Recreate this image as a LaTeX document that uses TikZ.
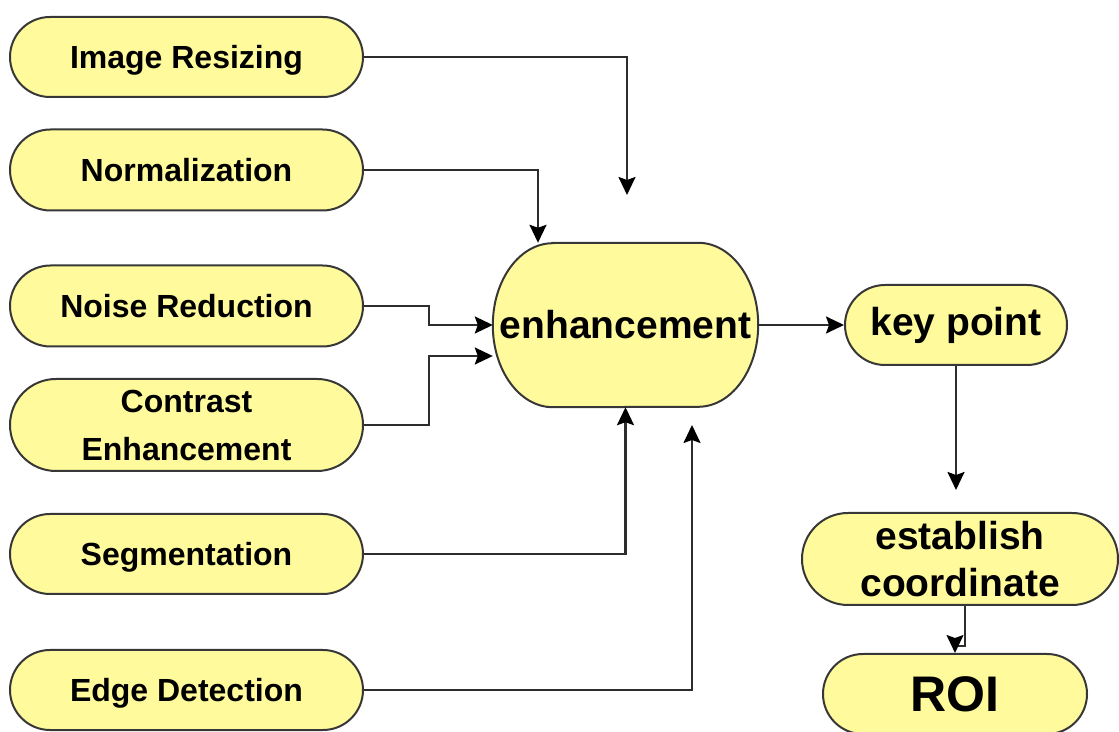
\documentclass[tikz,border=0pt]{standalone}
\usepackage{fontspec}
\setmainfont{Liberation Sans}
\usetikzlibrary{shapes.misc,arrows.meta,calc}
\pgfdeclarelayer{background}
\pgfsetlayers{background,main}
\definecolor{boxfill}{RGB}{255,250,155}
\definecolor{edgegray}{RGB}{55,55,55}
\definecolor{linegray}{RGB}{45,45,45}
\tikzset{
  pill/.style={rounded rectangle, draw=edgegray, line width=2pt, fill=boxfill,
    inner sep=0pt, align=center, text=black, font=\bfseries\fontsize{32}{48}\selectfont},
  oneline/.style={text height=22.9pt, text depth=0pt},
  bigtext/.style={font=\bfseries\fontsize{39}{47}\selectfont},
  conn/.style={draw=linegray, line width=2.2pt,
    -{Stealth[length=18pt,width=17pt,inset=3pt,color=black,fill=black]}},
}
\begin{document}
\begin{tikzpicture}[x=1pt,y=1pt]
\useasboundingbox (0,0) rectangle (1119,731);

% input steps on the left
\node[pill, oneline, minimum width=353pt, minimum height=80pt] (ir) at (186.5,674) {Image Resizing};
\node[pill, oneline, minimum width=353pt, minimum height=81pt] (nm) at (186.5,561) {Normalization};
\node[pill, oneline, minimum width=353pt, minimum height=81pt] (nr) at (186.5,425) {Noise Reduction};
\node[pill, minimum width=353pt, minimum height=92pt] (ce) at (186.5,306) {Contrast\\Enhancement};
\node[pill, oneline, minimum width=353pt, minimum height=80pt] (sg) at (186.5,177) {Segmentation};
\node[pill, oneline, minimum width=353pt, minimum height=80pt] (ed) at (186.5,41) {Edge Detection};

% central enhancement block (oval with elliptic corners)
\node[inner sep=0pt, minimum width=265pt, minimum height=164pt, bigtext] (enh) at (625.5,406) {enhancement};
\begin{pgfonlayer}{background}
  \draw[draw=edgegray, line width=2pt, fill=boxfill]
    ([xshift=60pt]enh.north west) -- ([xshift=-60pt]enh.north east)
    arc[start angle=90, end angle=0, x radius=60pt, y radius=82pt]
    arc[start angle=0, end angle=-90, x radius=60pt, y radius=82pt]
    -- ([xshift=60pt]enh.south west)
    arc[start angle=270, end angle=180, x radius=60pt, y radius=82pt]
    arc[start angle=180, end angle=90, x radius=60pt, y radius=82pt]
    -- cycle;
\end{pgfonlayer}

% output chain on the right
\node[pill, bigtext, minimum width=222pt, minimum height=80pt] (kp) at (956,406) {key point};
\node[pill, bigtext, minimum width=316pt, minimum height=92pt] (est) at (960,172) {establish\\coordinate};
\node[pill, font=\bfseries\fontsize{50}{56}\selectfont, minimum width=264pt, minimum height=80pt] (roi) at (955,37) {ROI};

% free ends of the open arrows
\coordinate (irend) at (627,536);
\coordinate (edend) at (692,306);
\coordinate (kpend) at (956,241);

% connectors
\draw[conn] (ir.east) -| (irend);
\draw[conn] (nm.east) -| ([xshift=-87.5pt]enh.north);
\draw[conn] (nr.east) -- ++(65,0) |- (enh.west);
\draw[conn] (ce.east) -- ++(65,0) |- ([yshift=-31pt]enh.west);
\draw[conn] (sg.east) -| (enh.south);
\draw[conn] (ed.east) -| (edend);
\draw[conn] (enh.east) -- (kp.west);
\draw[conn] (kp.south) -- (kpend);
\draw[conn, line width=1.6pt] ([xshift=5pt]est.south) -- ++(0,-40) -| (roi.north);
\end{tikzpicture}
\end{document}
